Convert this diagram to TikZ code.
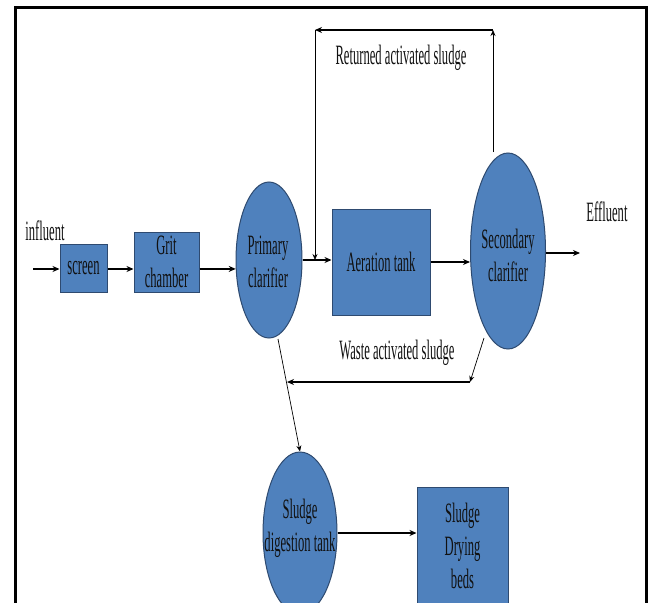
\documentclass[tikz,border=0pt]{standalone}
\usepackage{fontspec}
\setmainfont{Liberation Serif}[FakeStretch=0.45]
\usetikzlibrary{arrows.meta,shapes.geometric,calc}
\definecolor{boxblue}{HTML}{4F81BD}
\definecolor{boxedge}{HTML}{2E4A70}
\definecolor{ink}{HTML}{111111}
\tikzset{
  unit/.style={fill=boxblue,draw=boxedge,line width=1pt,text=ink,align=center,
    font=\fontsize{28}{33}\selectfont,inner sep=0pt},
  boxunit/.style={unit,rectangle},
  ellunit/.style={unit,ellipse},
  lab/.style={text=ink,align=center,font=\fontsize{28}{33}\selectfont,inner sep=0pt},
  flow/.style={line width=1.3pt,-{Stealth[length=7pt,width=6pt]}},
  thinflow/.style={line width=0.7pt,-{Stealth[length=6pt,width=5pt]}},
  thinline/.style={line width=0.7pt}
}
\begin{document}
\begin{tikzpicture}[x=1pt,y=-1pt]
\clip (0,0) rectangle (650,602);
\fill[white] (0,0) rectangle (650,602);
% frame
\draw[line width=3pt] (15.5,620) -- (15.5,8) -- (646,8) -- (646,620);
% units
\node[boxunit,minimum width=47pt,minimum height=48pt] (screen) at (83.5,268) {screen};
\node[boxunit,minimum width=65pt,minimum height=60pt] (grit) at (166.5,262) {Grit\\chamber};
\node[ellunit,minimum width=66pt,minimum height=156pt] (prim) at (269,260) {};
\node[lab] (primt) at (268,262) {Primary\\clarifier};
\node[boxunit,minimum width=98pt,minimum height=106pt] (aer) at (381,262) {Aeration tank};
\node[ellunit,minimum width=75pt,minimum height=196pt] (sec) at (508,251) {};
\node[lab] (sect) at (508,255) {Secondary\\clarifier};
\node[ellunit,minimum width=74pt,minimum height=162pt] (dig) at (300,533) {};
\node[lab] (digt) at (300,528) {Sludge\\digestion tank};
\node[boxunit,minimum width=91pt,minimum height=133pt] (dry) at (462.5,553.5) {};
\node[lab] (dryt) at (462.5,546) {Sludge\\Drying\\beds};
% labels
\node[lab] (inf) at (45,231) {influent};
\node[lab] (eff) at (607,212) {Effluent};
\node[lab] (ret) at (401,58) {Returned activated sludge};
\node[lab] (was) at (397,353) {Waste activated sludge};
% coordinates
\coordinate (inStart) at (33,269);
\coordinate (effEnd) at (580,253);
\coordinate (rt1) at (493,152);
\coordinate (rt2) at (493,30);
\coordinate (rt3) at (315,30);
\coordinate (w1) at (484,338);
\coordinate (w2) at (470,382);
\coordinate (w3) at (287,382);
\coordinate (p1) at (278,339);
% main flow
\draw[flow] (inStart) -- (inStart -| screen.west);
\draw[flow] (screen.east |- inStart) -- (grit.west |- inStart);
\draw[flow] (grit.east |- prim.195) -- (prim.195);
\draw[flow] (prim.east) -- (prim.east -| aer.west);
\draw[flow] (aer.east) -- (sec.west |- aer.east);
\draw[flow] (sec.east |- effEnd) -- (effEnd);
% return activated sludge
\draw[thinflow] (rt1) -- (rt2);
\draw[flow] (rt2) -- (rt3);
\draw[thinflow] (rt3) -- (rt3 |- prim.east);
% waste activated sludge
\draw[thinflow] (w1) -- (w2);
\draw[flow] (w2) -- (w3);
% to digestion and drying
\draw[thinflow] (p1) -- (dig.north);
\draw[flow] (dig.east) -- (dig.east -| dry.west);
\end{tikzpicture}
\end{document}
